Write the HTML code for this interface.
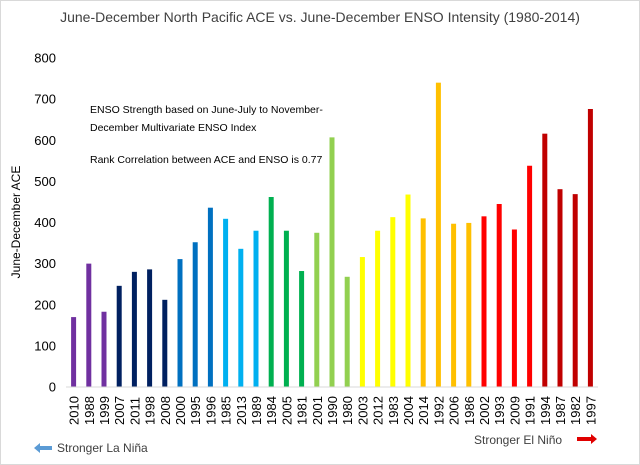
<!DOCTYPE html>
<html><head><meta charset="utf-8"><style>
body{margin:0;background:#fff;}
svg{display:block;font-family:"Liberation Sans",sans-serif;}
</style></head><body>
<svg id="c" width="640" height="465">
<rect x="0.5" y="0.5" width="639" height="464" fill="#fff" stroke="#d9d9d9"/>
<text x="320" y="22" text-anchor="middle" font-size="14" fill="#404040">June-December  North Pacific ACE vs. June-December  ENSO Intensity (1980-2014)</text>
<text transform="translate(20,222) rotate(-90)" text-anchor="middle" font-size="12" fill="#000">June-December ACE</text>
<text x="90" y="113" font-size="10.5" fill="#000">ENSO Strength based on June-July to November-</text>
<text x="90" y="131" font-size="10.5" fill="#000">December Multivariate ENSO Index</text>
<text x="90" y="163" font-size="10.5" fill="#000">Rank Correlation between ACE and ENSO is 0.77</text>
<g id="yticks"></g><g id="bars"></g><g id="xlabels"></g>
<line x1="66" y1="387" x2="598" y2="387" stroke="#d9d9d9"/>
<polygon points="34,448 40,443 40,446 52,446 52,450 40,450 40,453" fill="#5b9bd5"/>
<text x="57" y="452" font-size="12" fill="#404040">Stronger La Niña</text>
<text x="474" y="444" font-size="12" fill="#404040">Stronger El Niño</text>
<polygon points="577,437 591,437 591,434 597,439 591,444 591,441 577,441" fill="#e00000"/>
</svg>
<script>
const years=["2010","1988","1999","2007","2011","1998","2008","2000","1995","1996","1985","2013","1989","1984","2005","1981","2001","1990","1980","2003","2012","1983","2004","2014","1992","2006","1986","2002","1993","2009","1991","1994","1987","1982","1997"];
const ace=[170,300,183,246,280,286,212,311,352,436,409,336,380,462,380,282,375,607,268,316,380,413,468,410,740,397,399,415,445,383,538,616,481,469,676];
const colorGroups=["#7030a0","#7030a0","#7030a0","#002060","#002060","#002060","#002060","#0070c0","#0070c0","#0070c0","#00b0f0","#00b0f0","#00b0f0","#00b050","#00b050","#00b050","#92d050","#92d050","#92d050","#ffff00","#ffff00","#ffff00","#ffff00","#ffc000","#ffc000","#ffc000","#ffc000","#ff0000","#ff0000","#ff0000","#ff0000","#c00000","#c00000","#c00000","#c00000"];
const yTicks=[0,100,200,300,400,500,600,700,800];
const NS="http://www.w3.org/2000/svg";
const x0=66,x1=598,y0=387,y1=58,yMax=800;
const band=(x1-x0)/years.length;
const ys=v=>y0-(v/yMax)*(y0-y1);
const xs=i=>x0+band*(i+0.5);
const yt=document.getElementById('yticks');
yTicks.forEach(t=>{
 const e=document.createElementNS(NS,'text');
 
 
 e.setAttribute('x',56);e.setAttribute('y',ys(t)+4.5);e.setAttribute('text-anchor','end');
 e.setAttribute('font-size','13');e.setAttribute('fill','#000');e.textContent=t;yt.appendChild(e);
});
const bg=document.getElementById('bars'),xl=document.getElementById('xlabels');
years.forEach((y,i)=>{
 const r=document.createElementNS(NS,'rect');
 
 
 r.setAttribute('x',xs(i)-2.5);r.setAttribute('width',5);
 r.setAttribute('y',ys(ace[i]));r.setAttribute('height',y0-ys(ace[i]));
 r.setAttribute('fill',colorGroups[i]);bg.appendChild(r);
 const t=document.createElementNS(NS,'text');
 
 
 t.setAttribute('transform','translate('+(xs(i)+5)+',425) rotate(-90)');
 t.setAttribute('font-size','13');t.setAttribute('fill','#000');t.textContent=y;xl.appendChild(t);
});
</script>
</body></html>
